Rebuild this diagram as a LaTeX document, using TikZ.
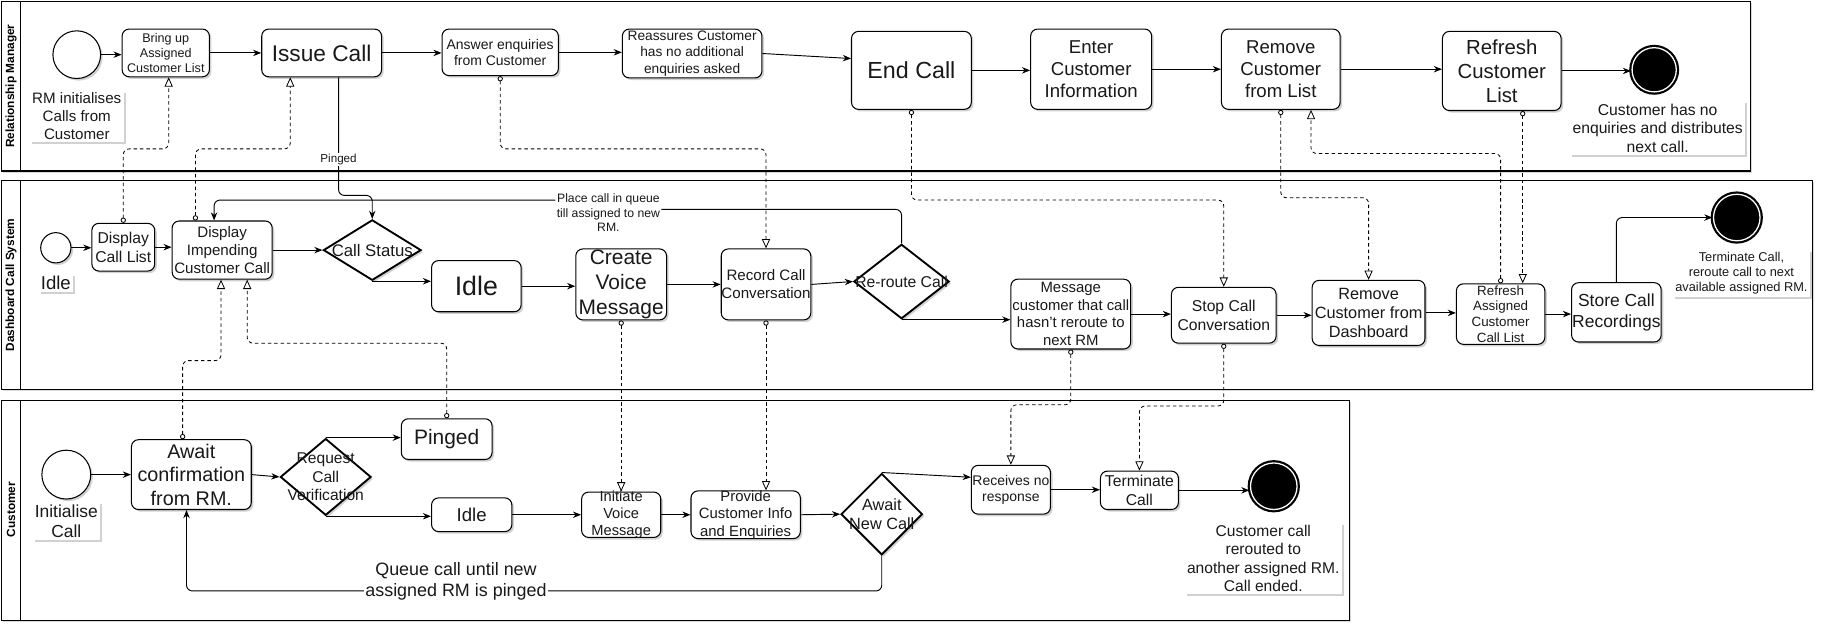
\documentclass[tikz,border=0pt]{standalone}
\usepackage{fontspec}
\setmainfont{Liberation Sans}
\usetikzlibrary{arrows.meta,shapes.geometric,shadows,calc}
\begin{document}
\begin{tikzpicture}[x=1pt,y=-1pt,
  fs/.style={font=\fontsize{#1}{1.18\dimexpr #1pt\relax}\selectfont},
  txt/.style={align=center,inner sep=0pt,text=black!90},
  shd/.style={drop shadow={shadow xshift=1.8pt,shadow yshift=-1.8pt,opacity=0.18,fill=black}},
  box/.style={draw,rounded corners=6pt,fill=white,line width=0.9pt,inner sep=0pt,shd},
  dia/.style={diamond,draw,fill=white,line width=1.6pt,inner sep=0pt,shd},
  startc/.style={circle,draw,fill=white,line width=0.9pt,inner sep=0pt,shd},
  endc/.style={circle,draw=black,fill=black,double=white,double distance=1.1pt,line width=1.9pt,inner sep=0pt},
  note/.style={fill=white,align=center,inner sep=2pt,text=black!90,shd},
  lane/.style={draw,fill=white,line width=0.9pt,drop shadow={shadow xshift=1.5pt,shadow yshift=-1.5pt,opacity=0.15,fill=black}},
  hdr/.style={rotate=90,font=\fontsize{10.2}{12}\selectfont\bfseries},
  arr/.style={-{Stealth[length=7pt,width=5.5pt]},line width=0.8pt,rounded corners=5pt},
  plain/.style={line width=0.8pt,rounded corners=5pt},
  flow/.style={{Circle[open,length=4.5pt,width=4.5pt]}-{Triangle[open,length=8pt,width=7pt]},line width=0.7pt,dash pattern=on 3pt off 2.5pt,rounded corners=5pt},
  wlab/.style={fill=white,align=center,inner sep=1pt,text=black!90}
]
\useasboundingbox (0,0) rectangle (1568,543);

% ---------- lanes ----------
\draw[lane] (1,1) rectangle (1505,147);
\draw[line width=0.9pt] (18,1) -- (18,147);
\node[hdr] (h1) at (9.5,74) {Relationship Manager};
\draw[lane] (1,155) rectangle (1558,335);
\draw[line width=0.9pt] (18,155) -- (18,335);
\node[hdr] (h2) at (9.5,245) {Dashboard Call System};
\draw[lane] (1,344) rectangle (1160,533);
\draw[line width=0.9pt] (18,344) -- (18,533);
\node[hdr] (h3) at (9.5,438) {Customer};

% ---------- lane 1 nodes ----------
\node[startc,minimum size=41] (s1) at (66,47) {};
\node[note,fs=13] (ns1) at (66,100) {RM initialises\\Calls from\\Customer};
\node[box,minimum width=75,minimum height=41,label={[txt,fs=10.8]center:{Bring up\\Assigned\\Customer List}}] (bring) at (142.5,45.5) {};
\node[box,minimum width=103,minimum height=41,label={[txt,fs=19.5]center:{Issue Call}}] (issue) at (276.5,45.5) {};
\node[box,minimum width=100,minimum height=40,label={[txt,fs=12]center:{Answer enquiries\\from Customer}}] (answer) at (430,45) {};
\node[box,minimum width=120,minimum height=42,label={[txt,fs=11.8]center:{Reassures Customer\\has no additional\\enquiries asked}}] (reassure) at (595,46) {};
\node[box,minimum width=103,minimum height=67,label={[txt,fs=20]center:{End Call}}] (endcall) at (783.5,60.5) {};
\node[box,minimum width=104,minimum height=69,label={[txt,fs=16]center:{Enter\\Customer\\Information}}] (enter) at (938,59.5) {};
\node[box,minimum width=102,minimum height=69,label={[txt,fs=16]center:{Remove\\Customer\\from List}}] (removel) at (1101,59.5) {};
\node[box,minimum width=102,minimum height=68,label={[txt,fs=17.5]center:{Refresh\\Customer\\List}}] (refreshl) at (1291,61) {};
\node[endc,minimum size=38] (e1) at (1422,60) {};
\node[note,fs=13.5] (ne1) at (1425,110) {Customer has no\\enquiries and distributes\\next call.};

% ---------- lane 2 nodes ----------
\node[startc,minimum size=26] (s2) at (48,213) {};
\node[note,fs=16] (ns2) at (48,243) {Idle};
\node[box,minimum width=54,minimum height=41,label={[txt,fs=13.5]center:{Display\\Call List}}] (dcl) at (106,212.5) {};
\node[box,minimum width=86,minimum height=50,label={[txt,fs=13]center:{Display\\Impending\\Customer Call}}] (dicc) at (191,215) {};
\node[dia,minimum width=84,minimum height=52,label={[txt,fs=14.4]center:{Call Status}}] (cs) at (320,215) {};
\node[box,minimum width=77,minimum height=44,label={[txt,fs=23]center:{Idle}}] (idle2) at (409.5,246) {};
\node[box,minimum width=78,minimum height=61,label={[txt,fs=18]center:{Create\\Voice\\Message}}] (cvm) at (534,244.5) {};
\node[box,minimum width=77,minimum height=61,label={[txt,fs=13]center:{Record Call\\Conversation}}] (rcc) at (658.5,244.5) {};
\node[dia,minimum width=82,minimum height=64,label={[txt,fs=13.5]center:{Re-route Call}}] (rr) at (775,242) {};
\node[box,minimum width=103,minimum height=60,label={[txt,fs=12.8]center:{Message\\customer that call\\hasn't reroute to\\next RM}}] (msg) at (920.5,270) {};
\node[box,minimum width=90,minimum height=48,label={[txt,fs=13.5]center:{Stop Call\\Conversation}}] (stop) at (1052,271) {};
\node[box,minimum width=97,minimum height=56,label={[txt,fs=14]center:{Remove\\Customer from\\Dashboard}}] (rmd) at (1176.5,269) {};
\node[box,minimum width=76,minimum height=52,label={[txt,fs=11.5]center:{Refresh\\Assigned\\Customer\\Call List}}] (rac) at (1290,270) {};
\node[box,minimum width=77,minimum height=51,label={[txt,fs=15]center:{Store Call\\Recordings}}] (store) at (1389.5,268.5) {};
\node[endc,minimum size=40] (e2) at (1493,187) {};
\node[note,fs=11] (ne2) at (1497,235) {Terminate Call,\\reroute call to next\\available assigned RM.};

% ---------- lane 3 nodes ----------
\node[startc,minimum size=42] (s3) at (57,408) {};
\node[note,fs=15] (ns3) at (57,448) {Initialise\\Call};
\node[box,minimum width=103,minimum height=60,label={[txt,fs=17]center:{Await\\confirmation\\from RM.}}] (await) at (164.5,408) {};
\node[dia,minimum width=78,minimum height=66,label={[txt,fs=13.4]center:{Request\\Call\\Verification}}] (rcv) at (280,410) {};
\node[box,minimum width=78,minimum height=35,label={[txt,fs=18]center:{Pinged}}] (pinged) at (384,377.5) {};
\node[box,minimum width=69,minimum height=29,label={[txt,fs=16]center:{Idle}}] (idle3) at (405.5,442.5) {};
\node[box,minimum width=68,minimum height=39,label={[txt,fs=12.6]center:{Initiate\\Voice\\Message}}] (ivm) at (534,442.5) {};
\node[box,minimum width=94,minimum height=41,label={[txt,fs=12.8]center:{Provide\\Customer Info\\and Enquiries}}] (pci) at (641,442.5) {};
\node[dia,minimum width=70,minimum height=70,label={[txt,fs=14]center:{Await\\New Call}}] (anc) at (758,442) {};
\node[box,minimum width=68,minimum height=42,label={[txt,fs=12]center:{Receives no\\response}}] (rnr) at (869,421) {};
\node[box,minimum width=67,minimum height=33,label={[txt,fs=13.5]center:{Terminate\\Call}}] (term) at (979.5,421.5) {};
\node[endc,minimum size=40] (e3) at (1095,418) {};
\node[note,fs=13.4] (ne3) at (1086,480) {Customer call\\rerouted to\\another assigned RM.\\Call ended.};

% ---------- lane 1 connectors ----------
\draw[arr] (s1.east) -- (s1.east -| bring.west);
\draw[arr] (bring.east) -- (issue.west);
\draw[arr] (issue.east) -- (issue.east -| answer.west);
\draw[arr] (answer.east) -- (answer.east -| reassure.west);
\draw[arr] (reassure.east) -- ($(endcall.north west)!0.35!(endcall.south west)$);
\draw[arr] (endcall.east) -- (endcall.east -| enter.west);
\draw[arr] (enter.east) -- (enter.east -| removel.west);
\draw[arr] (removel.east) -- (removel.east -| refreshl.west);
\draw[arr] (refreshl.east) -- (refreshl.east -| e1.west);

% Pinged edge
\coordinate (pg0) at ($(issue.south west)!0.64!(issue.south east)$);
\draw[arr] (pg0) -- (pg0 |- 0,168) -| (cs.north);
\node[wlab,fs=10] (pglab) at (pg0 |- 0,137) {Pinged};

% Place call in queue edge
\node[wlab,fs=10.5] (qcall) at (523,183) {Place call in queue\\till assigned to new\\RM.};
\draw[plain] (rr.north) -- (rr.north |- 0,180) -- (qcall.east |- 0,180);
\draw[arr] (qcall.west |- 0,172) -| ($(dicc.north west)!0.42!(dicc.north east)$);

% ---------- lane 2 connectors ----------
\draw[arr] (s2.east) -- (s2.east -| dcl.west);
\draw[arr] (dcl.east) -- (dcl.east -| dicc.west);
\draw[arr] (dicc.east) -- (cs.west);
\draw[arr] (cs.south) -- (cs.south -| idle2.west);
\draw[arr] (idle2.east) -- (idle2.east -| cvm.west);
\draw[arr] (cvm.east) -- (cvm.east -| rcc.west);
\draw[arr] (rcc.east) -- (rr.west);
\draw[arr] (rr.south) -- (rr.south -| msg.west);
\draw[arr] (msg.east) -- (msg.east -| stop.west);
\draw[arr] (stop.east) -- (stop.east -| rmd.west);
\draw[arr] (rmd.east) -- (rmd.east -| rac.west);
\draw[arr] (rac.east) -- (rac.east -| store.west);
\draw[arr] (store.north) |- (e2.west);

% ---------- lane 3 connectors ----------
\draw[arr] (s3.east) -- (s3.east -| await.west);
\draw[arr] (await.east) -- (rcv.west);
\draw[arr] (rcv.north) -- (rcv.north -| pinged.west);
\draw[arr] (rcv.south) -- (rcv.south -| idle3.west);
\draw[arr] (idle3.east) -- (idle3.east -| ivm.west);
\draw[arr] (ivm.east) -- (ivm.east -| pci.west);
\draw[arr] (pci.east) -- (anc.west);
\draw[arr] (anc.north) -- ($(rnr.north west)!0.25!(rnr.south west)$);
\draw[arr] (rnr.east) -- (rnr.east -| term.west);
\draw[arr] (term.east) -- (term.east -| e3.west);
\draw[arr] (anc.south) -- (anc.south |- 0,508) -| ($(await.south west)!0.46!(await.south east)$);
\node[wlab,fs=15.4] (qlab) at (392,500) {Queue call until new\\assigned RM is pinged};

% ---------- message flows (dashed) ----------
\coordinate (f1a) at ([xshift=2.5pt]bring.south);
\draw[flow] (dcl.north) -- (dcl.north |- 0,128) -| (f1a);
\coordinate (f2a) at ([xshift=-23pt]dicc.north);
\coordinate (f2b) at ([xshift=-27pt]issue.south);
\draw[flow] (f2a) -- (f2a |- 0,128) -| (f2b);
\draw[flow] (answer.south) -- (answer.south |- 0,128) -| (rcc.north);
\draw[flow] (endcall.south) -- (endcall.south |- 0,172) -| (stop.north);
\draw[flow] (removel.south) -- (removel.south |- 0,170) -| (rmd.north);
\coordinate (f6b) at ([xshift=26pt]removel.south);
\draw[flow] (rac.north) -- (rac.north |- 0,132) -| (f6b);
\draw[flow] ([xshift=18pt]refreshl.south) -- ([xshift=19pt]rac.north);
\draw[flow] (cvm.south) -- (ivm.north);
\draw[flow] (rcc.south) -- ([xshift=17.5pt]pci.north);
\coordinate (f10a) at ([xshift=-7.5pt]await.north);
\coordinate (f10b) at ([xshift=-1pt]dicc.south);
\draw[flow] (f10a) -- (f10a |- 0,310) -| (f10b);
\coordinate (f11b) at ([xshift=21.5pt]dicc.south);
\draw[flow] (pinged.north) -- (pinged.north |- 0,295) -| (f11b);
\draw[flow] (msg.south) -- (msg.south |- 0,348) -| (rnr.north);
\draw[flow] (stop.south) -- (stop.south |- 0,349) -| (term.north);
\end{tikzpicture}
\end{document}
